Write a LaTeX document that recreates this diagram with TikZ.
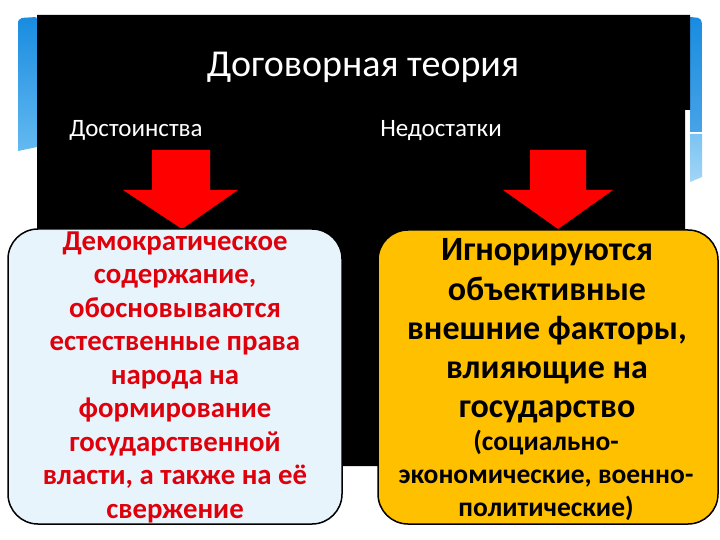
\documentclass[tikz,border=0pt]{standalone}
\usepackage{fontspec}
\setmainfont{Carlito}
\definecolor{boxred}{RGB}{222,0,10}
\definecolor{boxblue}{RGB}{232,244,252}
\definecolor{boxyellow}{RGB}{255,192,0}
\definecolor{panelA}{RGB}{25,140,224}
\definecolor{panelB}{RGB}{100,185,240}
\begin{document}
\begin{tikzpicture}[x=1pt,y=-1pt,
  arrowshape/.style={fill=red,draw=none},
  infobox/.style={draw=black,line width=1.5pt,rounded corners=30pt},
  whitelabel/.style={text=white,inner sep=0pt,anchor=base}]
\useasboundingbox (0,0) rectangle (720,540);
\fill[white] (0,0) rectangle (720,540);
% blue panels behind
\shade[top color=panelA,bottom color=panelB] (18,22) [rounded corners=2pt]-- (20,18) -- (37,17) [sharp corners]-- (37,147) -- (18,151) -- cycle;
\shade[top color=panelA,bottom color=panelA!80!white] (690,17) [rounded corners=2pt]-- (700,18) -- (702,22) [sharp corners]-- (702,132) -- (690,132) -- cycle;
\shade[top color=panelB!85!white,bottom color=panelB!60!white] (690,134) -- (702,134) -- (702,177) -- (690,182) -- cycle;
% black background
\fill[black] (37,15) -- (690,15) -- (690,110) -- (685,110) -- (685,466) -- (37,466) -- cycle;
% title and headings
\node[whitelabel,font=\fontsize{38}{40}\selectfont] (title) at (363,77) {Договорная теория};
\node[whitelabel,font=\fontsize{25}{28}\selectfont] (adv) at (136,137) {Достоинства};
\node[whitelabel,font=\fontsize{25}{28}\selectfont] (dis) at (441,137) {Недостатки};
% arrows
\fill[arrowshape] (152,150) -- (210,150) -- (210,190) -- (238,190) -- (182,229) -- (123,190) -- (152,190) -- cycle;
\fill[arrowshape] (530,150) -- (586,150) -- (586,190) -- (613,190) -- (558,229) -- (503,190) -- (530,190) -- cycle;
% boxes
\draw[infobox,fill=boxblue] (8,229) rectangle (342,524);
\draw[infobox,fill=boxyellow] (378,230) rectangle (718,524);
\node[text=boxred,font=\bfseries\fontsize{28.8}{33.5}\selectfont,align=center,inner sep=0pt] (left) at (175,377)
 {Демократическое\\содержание,\\обосновываются\\естественные права\\народа на\\формирование\\государственной\\власти, а также на её\\свержение};
\node[text=black,font=\bfseries\fontsize{34}{39.2}\selectfont,align=center,inner sep=0pt] (right1) at (547,331)
 {Игнорируются\\объективные\\внешние факторы,\\влияющие на\\государство};
\node[text=black,font=\bfseries\fontsize{27.5}{33}\selectfont,align=center,inner sep=0pt] (right2) at (546,475)
 {(социально-\\экономические, военно-\\политические)};
\end{tikzpicture}
\end{document}
